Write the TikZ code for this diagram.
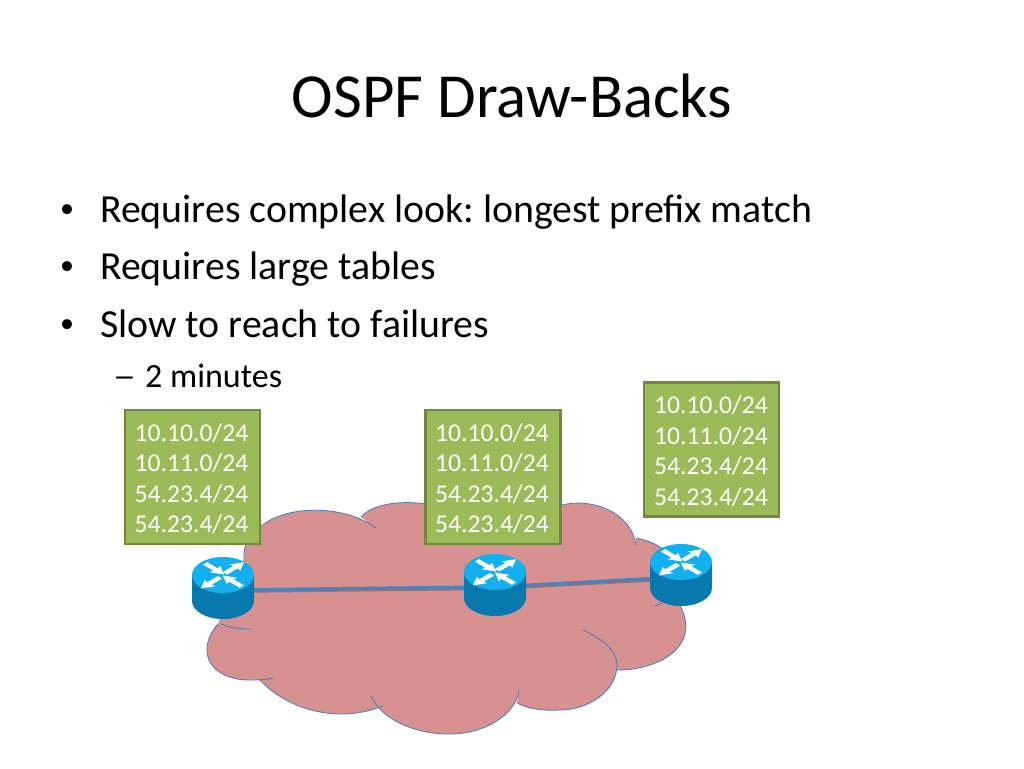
\documentclass[tikz,border=0pt]{standalone}
\usepackage{fontspec}
\setmainfont{Carlito}
\frenchspacing
\definecolor{boxfill}{HTML}{9BBB59}
\definecolor{boxline}{HTML}{71893F}
\definecolor{cloudfill}{HTML}{D79191}
\definecolor{cloudline}{HTML}{4F81BD}
\definecolor{rtop}{HTML}{12B0EE}
\definecolor{rside}{HTML}{0779AD}
\newcommand{\prefixlist}[1]{\rule{0pt}{21pt}10.10.0/24\kern#1\\10.11.0/24\kern#1\\54.23.4/24\kern#1\\54.23.4/24\kern#1}
\newcommand{\routerarrow}[3]{\fill[white,yscale=0.58,shift={(#1,#2)},rotate=#3] (0,-3) -- (15,-3) -- (14,-7.5) -- (27,0) -- (14,7.5) -- (15,3) -- (0,3) -- cycle;}
\tikzset{
  prefixbox/.style={draw=boxline,line width=2.4pt,fill=boxfill,text=white,minimum width=135pt,minimum height=134pt,inner sep=0pt,align=center,font=\fontsize{25.6}{30.6}\selectfont},
  titletext/.style={anchor=base,font=\fontsize{62.7}{70}\selectfont,text=black,inner sep=0pt},
  bullettext/.style={anchor=base west,font=\fontsize{39.8}{46}\selectfont,text=black,inner sep=0pt},
  bulletmark/.style={anchor=base west,font=\fontsize{28}{34}\selectfont,text=black,inner sep=0pt},
  subtext/.style={anchor=base west,font=\fontsize{34}{40}\selectfont,text=black,inner sep=0pt},
  linkline/.style={draw=cloudline,line width=3.4pt},
  linkshadow/.style={draw=black!25!cloudfill,line width=3pt},
  cloudedge/.style={draw=cloudline,line width=0.9pt},
  pics/router/.style={code={
    \fill[rside] (-31,0) -- (-31,26) arc[start angle=180,end angle=0,x radius=31,y radius=18] -- (31,0) -- cycle;
    \fill[rtop] (0,0) ellipse[x radius=31,y radius=18];
    \routerarrow{2}{-3}{45}
    \routerarrow{-18}{-20}{-45}
    \routerarrow{-3}{4}{225}
    \routerarrow{19}{20}{135}
  }}
}
\begin{document}
\begin{tikzpicture}[x=1pt,y=-1pt]
\useasboundingbox (0,0) rectangle (1024,768);
\fill[white] (0,0) rectangle (1024,768);
\node[titletext] (title) at (512,117) {OSPF Draw-Backs};
\node[bulletmark] (b1) at (60,217) {•};
\node[bullettext] (t1) at (100,222) {Requires complex look: longest prefix match};
\node[bulletmark] (b2) at (60,274) {•};
\node[bullettext] (t2) at (100,279) {Requires large tables};
\node[bulletmark] (b3) at (60,332) {•};
\node[bullettext] (t3) at (100,337) {Slow to reach to failures};
\node[subtext] (d4) at (113,387) {\scalebox{1.35}[1]{–}};
\node[subtext] (t4) at (145,387) {2 minutes};
% cloud fill
\path[fill=cloudfill] (244,558) .. controls (243,545) and (250,533) .. (264,524)
 .. controls (290,505) and (345,505) .. (376,528) -- (361,517)
 .. controls (372,505) and (395,500) .. (428,504) -- (562,505)
 .. controls (590,498) and (630,510) .. (636,545) -- (636,538)
 .. controls (650,541) and (658,545) .. (664,550) -- (679,604)
 .. controls (690,622) and (690,645) .. (662,660)
 .. controls (650,666) and (635,670) .. (617,670)
 -- (617,665) .. controls (617,690) and (590,710) .. (559,710)
 .. controls (545,711) and (528,709) .. (517,703) -- (519,691)
 .. controls (515,715) and (485,734) .. (449,734)
 .. controls (415,734) and (382,720) .. (371,696) -- (383,706)
 .. controls (365,713) and (350,714) .. (342,714)
 .. controls (305,714) and (275,697) .. (259,679) -- (273,678)
 .. controls (265,680) and (258,680) .. (249,680)
 .. controls (225,680) and (207,668) .. (207,650)
 .. controls (207,638) and (213,630) .. (218,624) -- cycle;
% cloud outline arcs
\draw[cloudedge] (244,558) .. controls (243,545) and (250,533) .. (264,524) .. controls (290,505) and (345,505) .. (376,528);
\draw[cloudedge] (361,517) .. controls (372,505) and (395,500) .. (428,504);
\draw[cloudedge] (562,505) .. controls (590,498) and (630,510) .. (636,545);
\draw[cloudedge] (636,538) .. controls (650,541) and (658,545) .. (664,550);
\draw[cloudedge] (655,606) -- (662,603);
\draw[cloudedge] (679,604) .. controls (690,622) and (690,645) .. (662,660) .. controls (650,666) and (635,670) .. (617,670);
\draw[cloudedge] (583,630) .. controls (605,640) and (617,652) .. (617,665) .. controls (617,690) and (590,710) .. (559,710) .. controls (545,711) and (528,709) .. (517,703);
\draw[cloudedge] (519,691) .. controls (515,715) and (485,734) .. (449,734) .. controls (415,734) and (382,720) .. (371,696);
\draw[cloudedge] (383,706) .. controls (365,713) and (350,714) .. (342,714) .. controls (305,714) and (275,697) .. (259,679);
\draw[cloudedge] (273,678) .. controls (265,680) and (258,680) .. (249,680) .. controls (225,680) and (207,668) .. (207,650) .. controls (207,638) and (213,630) .. (218,624);
\draw[cloudedge] (221,624) .. controls (230,628) and (240,629) .. (251,629);
% routers and links
\coordinate (r1) at (223,575);
\coordinate (r2) at (495,572);
\coordinate (r3) at (681,562);
\draw[linkshadow] ([yshift=-16.5pt]r1) -- ([yshift=-16.5pt]r2) -- ([yshift=-16.5pt]r3);
\draw[linkline] ([yshift=-15pt]r1) -- ([yshift=-15pt]r2) -- ([yshift=-15pt]r3);
\pic at (r1) {router};
\pic at (r2) {router};
\pic at (r3) {router};
\node[prefixbox] (bx1) at (192.5,477) {\prefixlist{2pt}};
\node[prefixbox] (bx2) at (493,477) {\prefixlist{2pt}};
\node[prefixbox] (bx3) at (711.5,449.5) {\prefixlist{1pt}};
\end{tikzpicture}
\end{document}
